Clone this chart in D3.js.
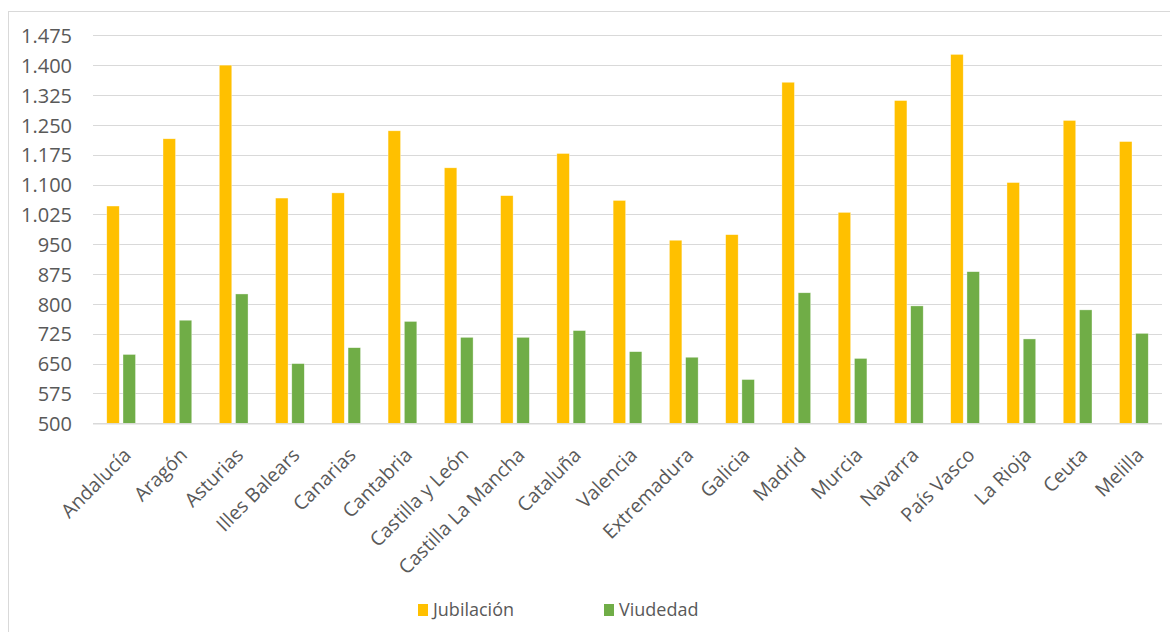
<!DOCTYPE html>
<html>
<head>
<meta charset="utf-8">
<script src="https://cdn.jsdelivr.net/npm/d3@7"></script>
<style>
  html, body { margin: 0; padding: 0; background: #fff; }
  svg { display: block; }
  text { font-family: "Open Sans", "Noto Sans", sans-serif; fill: #595959; }
</style>
</head>
<body>
<svg id="chart" width="1170" height="632"></svg>
<script>
// Regiones
const categories = ["Andalucía", "Aragón", "Asturias", "Illes Balears", "Canarias", "Cantabria",
  "Castilla y León", "Castilla La Mancha", "Cataluña", "Valencia", "Extremadura", "Galicia",
  "Madrid", "Murcia", "Navarra", "País Vasco", "La Rioja", "Ceuta", "Melilla"];

// Pensión media por región (€)
const jubilacion = [1046, 1215, 1400, 1066, 1079, 1235, 1142, 1072, 1178, 1060, 960, 974,
  1357, 1030, 1311, 1427, 1105, 1261, 1208];
const viudedad = [673, 759, 825, 650, 690, 756, 716, 716, 733, 680, 666, 610,
  828, 663, 795, 881, 712, 785, 726];

const seriesNames = ["Jubilación", "Viudedad"];
const seriesColors = ["#FFC000", "#70AD47"];
const yTicks = [500, 575, 650, 725, 800, 875, 950, 1025, 1100, 1175, 1250, 1325, 1400, 1475];

const svg = d3.select("#chart");

// chart frame
svg.append("rect")
  .attr("x", 8.5).attr("y", 11.5)
  .attr("width", 1200).attr("height", 700)
  .attr("fill", "none").attr("stroke", "#d9d9d9").attr("stroke-width", 1);

const plot = { left: 93, right: 1162, top: 35.3, bottom: 423.3 };

const x = d3.scaleBand().domain(categories).range([plot.left, plot.right]).padding(0);
const y = d3.scaleLinear().domain([500, 1475]).range([plot.bottom, plot.top]);

const fmt = v => d3.format(",")(v).replace(/,/g, ".");

// gridlines
svg.append("g")
  .selectAll("line")
  .data(yTicks)
  .join("line")
  .attr("x1", plot.left).attr("x2", plot.right)
  .attr("y1", d => Math.round(y(d)) + 0.5).attr("y2", d => Math.round(y(d)) + 0.5)
  .attr("stroke", "#d9d9d9").attr("stroke-width", 1.2);

// y axis labels
const yAxis = d3.axisLeft(y).tickValues(yTicks).tickFormat(fmt).tickSize(0).tickPadding(0);
const gy = svg.append("g").attr("transform", `translate(72,0)`).call(yAxis);
gy.select(".domain").remove();
gy.selectAll("text")
  .style("font-size", "20px")
  .attr("dy", "0.36em");

// bars
const bw = x.bandwidth();
const barW = bw / 4.5;
const gap = barW * 0.3;
const groupW = barW * 2 + gap;
const sub = d3.scaleOrdinal().domain([0, 1]).range([0, barW + gap]);

const data = categories.map((c, i) => ({ c, vals: [jubilacion[i], viudedad[i]] }));

const groups = svg.append("g")
  .selectAll("g")
  .data(data)
  .join("g")
  .attr("transform", d => `translate(${x(d.c) + (bw - groupW) / 2},0)`);

groups.selectAll("rect")
  .data(d => d.vals.map((v, k) => ({ v, k })))
  .join("rect")
  .attr("x", d => sub(d.k))
  .attr("width", barW)
  .attr("y", d => y(d.v))
  .attr("height", d => y(500) - y(d.v))
  .attr("fill", d => seriesColors[d.k])
  .attr("stroke", "#fff")
  .attr("stroke-width", 0.6)
  .attr("stroke-opacity", 0.6);

// category axis line
svg.append("line")
  .attr("x1", plot.left).attr("x2", plot.right)
  .attr("y1", plot.bottom + 0.5).attr("y2", plot.bottom + 0.5)
  .attr("stroke", "#d9d9d9").attr("stroke-width", 1.2);

// category labels, rotated
const xAxis = d3.axisBottom(x).tickSize(0).tickPadding(0);
const gx = svg.append("g").attr("transform", `translate(0,${plot.bottom})`).call(xAxis);
gx.select(".domain").remove();
gx.selectAll(".tick text")
  .style("font-size", "19.5px")
  .attr("text-anchor", "end")
  .attr("y", 0)
  .attr("dy", 0)
  .attr("transform", "translate(11,33) rotate(-45)");

// legend
const legend = svg.append("g").attr("transform", "translate(0,610)");
const legendX = [418, 604];
seriesNames.forEach((name, k) => {
  const g = legend.append("g").attr("transform", `translate(${legendX[k]},0)`);
  g.append("rect").attr("x", 0).attr("y", -6).attr("width", 10).attr("height", 12)
    .attr("fill", seriesColors[k]);
  g.append("text").attr("x", 15).attr("y", 0).attr("dy", "0.36em")
    .style("font-size", "18px").text(name);
});
</script>
</body>
</html>
